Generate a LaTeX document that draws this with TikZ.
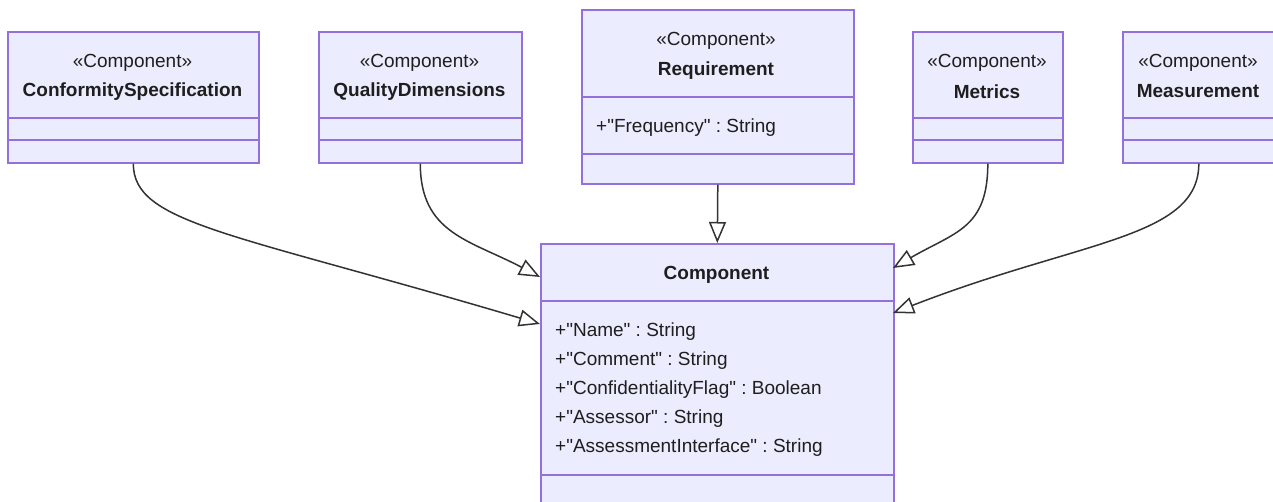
\documentclass[tikz,border=0pt]{standalone}
\usepackage{fontspec}
\newfontfamily\plainsans{Liberation Sans}
\usetikzlibrary{arrows.meta,calc}
\definecolor{boxfill}{HTML}{ECECFF}
\definecolor{boxline}{HTML}{9370DB}
\definecolor{txt}{HTML}{1E1E1E}
\definecolor{edge}{HTML}{333333}
\tikzset{
  umlbox/.style={draw=boxline, fill=boxfill, line width=1.6pt, rectangle, inner sep=0pt, anchor=north west},
  divider/.style={draw=boxline, line width=1.6pt},
  lbl/.style={font=\plainsans\fontsize{19}{23}\selectfont\frenchspacing, text=txt, inner sep=0pt},
  title/.style={lbl, font=\plainsans\fontsize{19}{23}\selectfont\bfseries},
  attr/.style={lbl, anchor=west},
  inherit/.style={draw=edge, line width=1.5pt, -{Triangle[open, length=21pt, width=17pt, fill=white]}}
}
\begin{document}
\begin{tikzpicture}[x=1pt, y=-1pt]
\clip (0,0) rectangle (1273,502);
\fill[white] (0,0) rectangle (1273,502);

% ConformitySpecification
\node[umlbox, minimum width=251pt, minimum height=131pt] (conf) at (7,31) {};
\draw[divider] (7,118) -- (258,118);
\draw[divider] (7,140) -- (258,140);
\node[lbl] (confst) at (132.5,63) {«Component»};
\node[title] (confnm) at (132.5,91.5) {ConformitySpecification};

% QualityDimensions
\node[umlbox, minimum width=203pt, minimum height=131pt] (qual) at (318,31) {};
\draw[divider] (318,118) -- (521,118);
\draw[divider] (318,140) -- (521,140);
\node[lbl] (qualst) at (419.5,63) {«Component»};
\node[title] (qualnm) at (419.5,91.5) {QualityDimensions};

% Requirement
\node[umlbox, minimum width=272pt, minimum height=174pt] (req) at (581,9) {};
\draw[divider] (581,97) -- (853,97);
\draw[divider] (581,154) -- (853,154);
\node[lbl] (reqst) at (716,41) {«Component»};
\node[title] (reqnm) at (716,70.5) {Requirement};
\node[attr] (reqa1) at (596,128) {+"Frequency" : String};

% Metrics
\node[umlbox, minimum width=150pt, minimum height=131pt] (met) at (912,31) {};
\draw[divider] (912,118) -- (1062,118);
\draw[divider] (912,140) -- (1062,140);
\node[lbl] (metst) at (987,63) {«Component»};
\node[title] (metnm) at (987,91.5) {Metrics};

% Measurement
\node[umlbox, minimum width=152pt, minimum height=131pt] (meas) at (1122,31) {};
\draw[divider] (1122,118) -- (1274,118);
\draw[divider] (1122,140) -- (1274,140);
\node[lbl] (measst) at (1198,63) {«Component»};
\node[title] (measnm) at (1198,91.5) {Measurement};

% Component
\node[umlbox, minimum width=353pt, minimum height=300pt] (comp) at (540,243) {};
\draw[divider] (540,301) -- (893,301);
\draw[divider] (540,475) -- (893,475);
\node[title] (compnm) at (716.5,274.5) {Component};
\node[attr] (ca1) at (555,332) {+"Name" : String};
\node[attr] (ca2) at (555,361) {+"Comment" : String};
\node[attr] (ca3) at (555,390) {+"ConfidentialityFlag" : Boolean};
\node[attr] (ca4) at (555,419) {+"Assessor" : String};
\node[attr] (ca5) at (555,448) {+"AssessmentInterface" : String};

% end points on Component
\coordinate (tconf) at (540,324);
\coordinate (tqual) at (540,277);
\coordinate (tmet) at (893,268);
\coordinate (tmeas) at (893,313);

% connectors
\draw[inherit] (conf.south) .. controls ($(conf.south)+(0,60)$) and (230,232) .. (tconf);
\draw[inherit] (qual.south) .. controls ($(qual.south)+(0,70)$) and (470,240) .. (tqual);
\draw[inherit] (req.south) -- (comp.north);
\draw[inherit] (met.south) .. controls ($(met.south)+(0,65)$) and (955,232) .. (tmet);
\draw[inherit] (meas.south) .. controls ($(meas.south)+(0,75)$) and (1080,240) .. (tmeas);
\end{tikzpicture}
\end{document}
